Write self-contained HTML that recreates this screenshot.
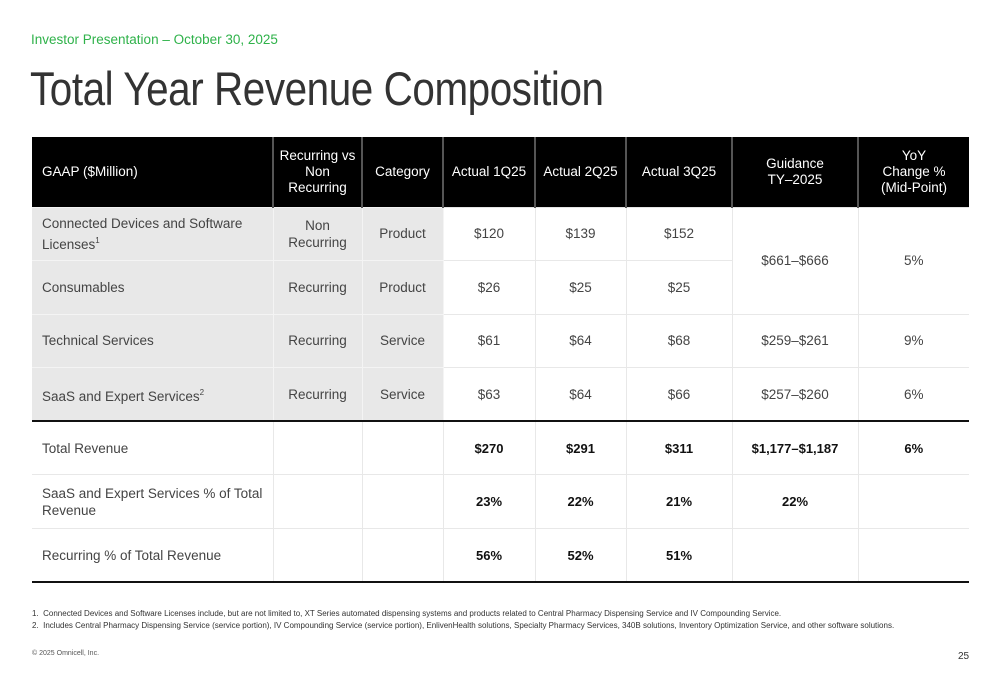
<!DOCTYPE html>
<html><head><meta charset="utf-8"><style>
*{margin:0;padding:0;box-sizing:border-box}
body{width:1000px;height:685px;background:#fff;font-family:"Liberation Sans",sans-serif;position:relative;overflow:hidden;color:#333}
.sub{position:absolute;left:31px;top:32px;font-size:13.5px;color:#2fb24a}
h1{position:absolute;left:30px;top:61px;font-size:47px;font-weight:300;color:#333;letter-spacing:-0.5px;transform:scaleX(0.86);transform-origin:left}
table{position:absolute;left:32px;top:137px;border-collapse:collapse;table-layout:fixed;width:937px}
th{background:#000;color:#fff;font-weight:normal;font-size:13.5px;height:70px;text-align:center;border-left:2px solid #555;line-height:16px}
th:first-child{text-align:left;padding-left:10px;border-left:none}
td{font-size:13.5px;text-align:center;border:1px solid #e8e8e8;border-top:1px solid #e4e4e4;color:#444}
td.l{text-align:left;padding-left:10px;line-height:17px}
.g{background:#e8e8e8;border-color:#f4f4f4}
tr.r td{height:53.6px}
tr.thick td{border-bottom:2px solid #111}
tr.b td{color:#111;font-weight:bold;font-size:13px}
tr.b td.l,tr.b td.n{font-weight:normal;color:#444;font-size:13.5px}
td:first-child{border-left:none}td:last-child{border-right:none}
sup{font-size:8px;vertical-align:6px}
.fn{position:absolute;left:32px;font-size:8px;color:#333}
</style></head><body>
<div class="sub">Investor Presentation – October 30, 2025</div>
<h1>Total Year Revenue Composition</h1>
<table>
<colgroup><col style="width:241px"><col style="width:89px"><col style="width:81px"><col style="width:92px"><col style="width:91px"><col style="width:106px"><col style="width:126px"><col style="width:111px"></colgroup>
<tr><th>GAAP ($Million)</th><th>Recurring vs<br>Non<br>Recurring</th><th>Category</th><th>Actual 1Q25</th><th>Actual 2Q25</th><th>Actual 3Q25</th><th>Guidance<br>TY–2025</th><th>YoY<br>Change %<br>(Mid-Point)</th></tr>
<tr class="r"><td class="l g">Connected Devices and Software Licenses<sup>1</sup></td><td class="g" style="line-height:17px">Non<br>Recurring</td><td class="g">Product</td><td>$120</td><td>$139</td><td>$152</td><td rowspan="2">$661–$666</td><td rowspan="2">5%</td></tr>
<tr class="r"><td class="l g">Consumables</td><td class="g">Recurring</td><td class="g">Product</td><td>$26</td><td>$25</td><td>$25</td></tr>
<tr class="r"><td class="l g">Technical Services</td><td class="g">Recurring</td><td class="g">Service</td><td>$61</td><td>$64</td><td>$68</td><td>$259–$261</td><td>9%</td></tr>
<tr class="r thick"><td class="l g">SaaS and Expert Services<sup>2</sup></td><td class="g">Recurring</td><td class="g">Service</td><td>$63</td><td>$64</td><td>$66</td><td>$257–$260</td><td>6%</td></tr>
<tr class="r b"><td class="l">Total Revenue</td><td></td><td></td><td>$270</td><td>$291</td><td>$311</td><td>$1,177–$1,187</td><td>6%</td></tr>
<tr class="r b"><td class="l">SaaS and Expert Services % of Total Revenue</td><td></td><td></td><td>23%</td><td>22%</td><td>21%</td><td>22%</td><td></td></tr>
<tr class="r b thick"><td class="l">Recurring % of Total Revenue</td><td></td><td></td><td>56%</td><td>52%</td><td>51%</td><td></td><td></td></tr>
</table>
<div class="fn" style="top:609px">1.&nbsp; Connected Devices and Software Licenses include, but are not limited to, XT Series automated dispensing systems and products related to Central Pharmacy Dispensing Service and IV Compounding Service.</div>
<div class="fn" style="top:621px">2.&nbsp; Includes Central Pharmacy Dispensing Service (service portion), IV Compounding Service (service portion), EnlivenHealth solutions, Specialty Pharmacy Services, 340B solutions, Inventory Optimization Service, and other software solutions.</div>
<div class="fn" style="top:650px;font-size:7px;color:#555">© 2025 Omnicell, Inc.</div>
<div style="position:absolute;left:958px;top:651px;font-size:10px;color:#333">25</div>
</body></html>
